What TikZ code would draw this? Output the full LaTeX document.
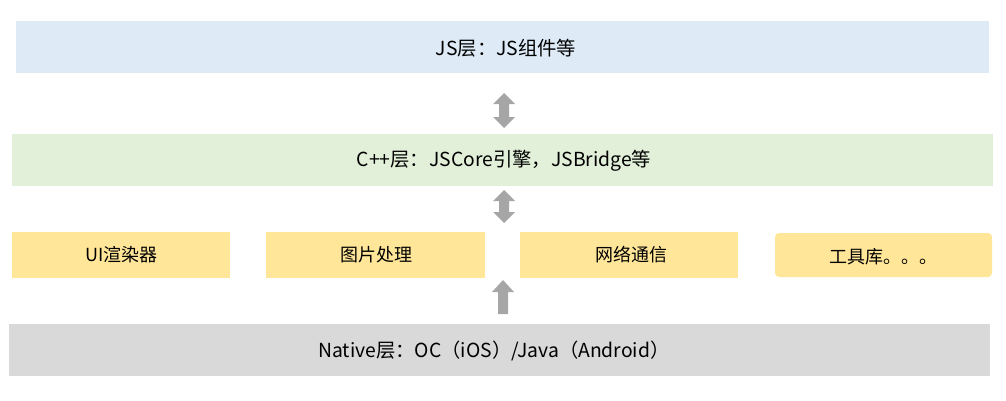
\documentclass[tikz,border=0pt]{standalone}
\usepackage{fontspec}
\setmainfont{Noto Sans CJK SC}
\definecolor{jsblue}{HTML}{DEEBF7}
\definecolor{cppgreen}{HTML}{E2F0D9}
\definecolor{modyellow}{HTML}{FFE699}
\definecolor{nativegray}{HTML}{D9D9D9}
\definecolor{arrowgray}{HTML}{A6A6A6}
\begin{document}
\begin{tikzpicture}[x=0.75pt,y=-0.75pt,
  layer/.style={inner sep=0pt,font=\fontsize{14.5}{17}\selectfont,text=black},
  modtext/.style={inner sep=0pt,font=\fontsize{13.5}{16}\selectfont,text=black},
  blockarrow/.style={fill=arrowgray,draw=none}]
\useasboundingbox (0,0) rectangle (1006,400);
% layers
\path[fill=jsblue] (16,21) rectangle (989,73);
\node[layer] (js) at (506,48.5) {JS层：JS组件等};
\path[fill=cppgreen] (12,134) rectangle (993,186);
\node[layer] (cpp) at (504,160.5) {C++层：JSCore引擎，JSBridge等};
\path[fill=modyellow] (12,232) rectangle (230,278);
\node[modtext] (ui) at (121.5,255) {UI渲染器};
\path[fill=modyellow] (266,232) rectangle (485,278);
\node[modtext] (img) at (376,255) {图片处理};
\path[fill=modyellow] (520,232) rectangle (738,278);
\node[modtext] (net) at (631,255) {网络通信};
\path[fill=modyellow,rounded corners=3pt] (775,233) rectangle (992,277);
\node[modtext] (tool) at (883,257) {工具库。。。};
\path[fill=nativegray] (9,324) rectangle (990,376);
\node[layer] (native) at (494,351) {Native层：OC（iOS）/Java（Android）};
% block arrows
\fill[blockarrow] (504,93) -- (515,104) -- (509,104) -- (509,117) -- (515,117) -- (504,128)
  -- (493,117) -- (499,117) -- (499,104) -- (493,104) -- cycle;
\fill[blockarrow] (504,190) -- (515,201) -- (509,201) -- (509,212) -- (515,212) -- (504,223)
  -- (493,212) -- (499,212) -- (499,201) -- (493,201) -- cycle;
\fill[blockarrow] (503,280) -- (514,292) -- (508,292) -- (508,314) -- (498,314) -- (498,292)
  -- (492,292) -- cycle;
\end{tikzpicture}
\end{document}
